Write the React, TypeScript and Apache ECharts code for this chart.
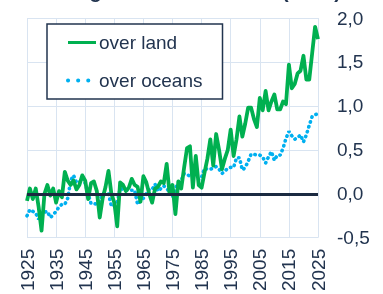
import React, { useEffect, useRef } from "react";
import * as echarts from "echarts";

const START_YEAR = 1925;

// Temperature anomaly over land (°C), 1925–2025
const landValues = [
  -0.08, 0.06, -0.06, 0.06, -0.15, -0.42, 0.0, 0.1, -0.02, 0.06,
  -0.1, 0.03, -0.04, 0.25, 0.15, 0.1, 0.15, 0.05, 0.1, 0.21,
  0.15, -0.06, 0.12, 0.14, 0.03, -0.27, -0.05, 0.08, 0.26, 0.0,
  -0.1, -0.37, 0.13, 0.1, 0.03, 0.07, 0.17, 0.1, 0.08, -0.09,
  0.2, 0.13, 0.0, -0.1, 0.06, 0.08, 0.14, 0.12, 0.34, 0.0,
  0.1, -0.23, 0.14, 0.06, 0.3, 0.52, 0.54, 0.07, 0.43, 0.1,
  0.07, 0.24, 0.4, 0.62, 0.32, 0.68, 0.5, 0.28, 0.4, 0.5,
  0.73, 0.43, 0.62, 0.88, 0.65, 0.8, 0.98, 0.98, 0.85, 0.76,
  1.09, 0.95, 1.17, 0.95, 1.05, 1.13, 0.96, 0.96, 1.05, 1.02,
  1.47, 1.2, 1.25, 1.37, 1.4, 1.57, 1.3, 1.3, 1.6, 1.9,
  1.76,
];

// Temperature anomaly over oceans (°C), 1925–2025
const oceanValues = [
  -0.25, -0.18, -0.2, -0.22, -0.29, -0.24, -0.21, -0.2, -0.27, -0.24,
  -0.2, -0.15, -0.12, -0.12, -0.05, 0.15, 0.21, 0.13, 0.13, 0.18,
  0.12, 0.0, -0.11, -0.11, -0.12, -0.08, 0.0, 0.01, 0.0, -0.14,
  -0.14, -0.1, 0.06, 0.05, 0.04, 0.04, 0.04, 0.04, -0.12, -0.08,
  -0.05, 0.0, 0.05, 0.05, 0.11, 0.03, 0.06, 0.09, 0.06, 0.02,
  -0.04, 0.06, 0.13, 0.15, 0.23, 0.22, 0.2, 0.19, 0.26, 0.16,
  0.19, 0.29, 0.28, 0.28, 0.29, 0.31, 0.28, 0.23, 0.26, 0.29,
  0.3, 0.3, 0.41, 0.41, 0.27, 0.3, 0.37, 0.45, 0.45, 0.44,
  0.44, 0.42, 0.35, 0.42, 0.48, 0.38, 0.44, 0.44, 0.52, 0.63,
  0.71, 0.66, 0.62, 0.64, 0.67, 0.59, 0.67, 0.78, 0.88, 0.9,
  0.91,
];

const years = landValues.map((_, i) => START_YEAR + i);

const seriesNames = ["over land", "over oceans"];
const titleText = "Warming over land and sea (in °C)";

const X_MIN = 1925;
const X_MAX = 2025;
const X_STEP = 10;
const Y_MIN = -0.5;
const Y_MAX = 2;
const Y_STEP = 0.5;

const TEXT = "#22344f";
const GRID = "#d9e4f1";
const LAND = "#00b050";
const OCEAN = "#00b0f0";
const FONT = "'Liberation Sans', Arial, sans-serif";

export default function App() {
  const ref = useRef<HTMLDivElement>(null);
  useEffect(() => {
    const chart = echarts.init(ref.current!, null, { renderer: "svg" });
    chart.setOption({
      animation: false,
      textStyle: { fontFamily: FONT },
      grid: { left: 27, right: 65, top: 18, bottom: 56 },
      graphic: [
        {
          type: "text",
          x: 17,
          y: 1,
          style: {
            text: titleText,
            font: `bold 20px ${FONT}`,
            fill: TEXT,
            verticalAlign: "bottom",
          },
        },
      ],
      legend: {
        orient: "vertical",
        left: 47,
        top: 24,
        padding: [9, 20, 9, 19],
        itemWidth: 28,
        itemHeight: 14,
        itemGap: 19,
        backgroundColor: "#ffffff",
        borderColor: TEXT,
        borderWidth: 1.5,
        borderRadius: 0,
        itemStyle: { opacity: 0, color: "transparent", borderWidth: 0 },
        textStyle: { fontSize: 19, color: TEXT, fontFamily: FONT, padding: [0, 0, 0, -2] },
        data: [
          { name: seriesNames[0], lineStyle: { color: LAND, width: 3, type: "solid" } },
          {
            name: seriesNames[1],
            lineStyle: { color: OCEAN, width: 4, type: [0.1, 10], cap: "round" },
          },
        ],
      },
      xAxis: {
        type: "value",
        min: X_MIN,
        max: X_MAX,
        interval: X_STEP,
        axisLine: { show: false },
        axisTick: { show: false },
        splitLine: { show: true, lineStyle: { color: GRID, width: 1 } },
        axisLabel: {
          rotate: 90,
          fontSize: 19,
          color: TEXT,
          margin: 11,
          fontFamily: FONT,
          formatter: (v: number) => String(v),
        },
      },
      yAxis: {
        type: "value",
        position: "right",
        min: Y_MIN,
        max: Y_MAX,
        interval: Y_STEP,
        axisLine: { show: false },
        axisTick: { show: false },
        splitLine: { show: true, lineStyle: { color: GRID, width: 1 } },
        axisLabel: {
          fontSize: 19,
          color: TEXT,
          margin: 19,
          fontFamily: FONT,
          formatter: (v: number) => v.toFixed(1).replace(".", ","),
        },
      },
      series: [
        {
          name: seriesNames[0],
          type: "line",
          data: years.map((y, i) => [y, landValues[i]]),
          showSymbol: false,
          symbol: "none",
          z: 3,
          lineStyle: { color: LAND, width: 3.8, join: "round" },
          itemStyle: { color: LAND },
          markLine: {
            silent: true,
            symbol: ["none", "none"],
            label: { show: false },
            lineStyle: { color: "#1b2a41", width: 3, type: "solid" },
            data: [{ yAxis: 0 }],
          },
        },
        {
          name: seriesNames[1],
          type: "line",
          data: years.map((y, i) => [y, oceanValues[i]]),
          showSymbol: false,
          symbol: "none",
          z: 2,
          lineStyle: { color: OCEAN, width: 3.6, type: [0.4, 4.7], cap: "round" },
          itemStyle: { color: OCEAN },
        },
      ],
    });
    return () => chart.dispose();
  }, []);
  return (
    <div
      ref={ref}
      style={{ position: "fixed", left: 0, top: 0, width: 383, height: 294 }}
    />
  );
}
